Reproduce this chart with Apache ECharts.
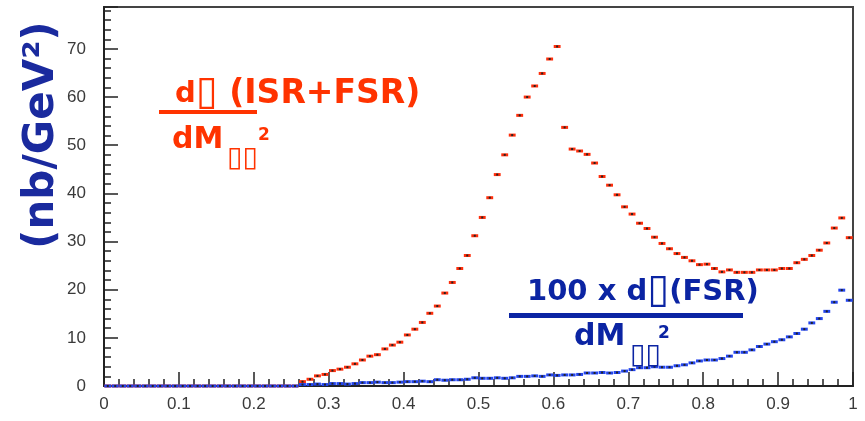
<!DOCTYPE html>
<html>
<head>
<meta charset="utf-8">
<script src="https://cdn.jsdelivr.net/npm/echarts@6/dist/echarts.min.js"></script>
<style>html,body{margin:0;padding:0;background:#fff;}#chart{width:865px;height:421px;}</style>
</head>
<body>
<div id="chart"></div>
<script>
// Histogram: 100 bins of width 0.01 in M^2 (GeV^2), from 0 to 1
const binWidth = 0.01;
// d sigma (ISR+FSR) / dM^2  (nb/GeV^2), one value per bin
const redValues = [
  0,0,0,0,0,0,0,0,0,0,
  0,0,0,0,0,0,0,0,0,0,
  0,0,0,0,0,0,0.9,1.4,2.1,2.4,
  3.2,3.5,3.9,4.6,5.4,6.2,6.5,7.7,8.5,9.1,
  10.6,11.8,13.2,15.1,16.6,19.3,21.5,24.4,27.1,31.2,
  35.0,39.1,43.9,48.0,52.1,56.2,60.0,62.3,64.9,67.9,
  70.5,53.7,49.2,48.8,48.1,46.3,43.5,41.7,39.7,37.2,
  35.7,33.8,32.7,30.9,29.6,28.5,27.5,26.7,26.0,25.2,
  25.3,24.4,23.7,24.1,23.6,23.6,23.6,24.1,24.1,24.1,
  24.4,24.4,25.6,26.3,27.1,28.2,29.7,32.8,34.9,30.8
];
// 100 x d sigma (FSR) / dM^2  (nb/GeV^2)
const blueValues = [
  0,0,0,0,0,0,0,0,0,0,
  0,0,0,0,0,0,0,0,0,0,
  0,0,0,0,0,0,0.3,0.3,0.4,0.3,
  0.5,0.5,0.4,0.5,0.7,0.7,0.8,0.7,0.7,0.8,
  0.9,0.9,1.0,0.9,1.3,1.2,1.3,1.3,1.4,1.7,
  1.6,1.6,1.7,1.6,1.7,2.0,2.0,2.1,2.0,2.3,
  2.2,2.3,2.3,2.4,2.7,2.7,2.8,2.7,2.8,3.1,
  3.4,3.8,3.8,4.0,3.9,3.9,4.2,4.4,4.8,5.2,
  5.4,5.4,5.7,6.2,7.0,7.0,7.5,8.2,8.7,9.2,
  9.6,10.2,10.9,11.8,13.1,14.0,15.5,17.4,19.9,17.8
];
const xMin = 0, xMax = 1, xInterval = 0.1;
const yMin = 0, yMax = 78.7, yInterval = 10, yMinorInterval = 2;

const redColor = '#ff2d0a';
const blueColor = '#2244ee';
const redText = '#ff3300';
const blueText = '#0b24a3';

function toData(vals) {
  return vals.map((v, i) => [(i + 0.5) * binWidth, v]);
}
function makeRender(color) {
  return function (params, api) {
    const c = api.coord([api.value(0), api.value(1)]);
    const w = api.size([binWidth, 0])[0];
    return {
      type: 'group',
      children: [
        { type: 'rect', shape: { x: c[0] - w / 2 + 0.3, y: c[1] - 1.5, width: w - 0.6, height: 3 }, style: { fill: color } },
        { type: 'rect', shape: { x: c[0] - 1, y: c[1] - 1, width: 2, height: 2 }, style: { fill: '#222' } }
      ]
    };
  };
}

const chart = echarts.init(document.getElementById('chart'), null, { renderer: 'canvas' });
const labelFont = { fontFamily: 'Liberation Sans', fontSize: 17, color: '#3a3a3a' };
const titleFont = 'DejaVu Sans';

function richStyle(color, mainSize, restSize) {
  return {
    a: { fontFamily: titleFont, fontWeight: 'bold', fontSize: mainSize, color: color },
    c: { fontFamily: titleFont, fontWeight: 'bold', fontSize: restSize, color: color },
    b: { fontFamily: titleFont, fontWeight: 'normal', fontSize: 40, color: color }
  };
}

chart.setOption({
  animation: false,
  backgroundColor: '#fff',
  grid: { left: 104, right: 12, top: 7, bottom: 35, show: true, borderColor: '#444', borderWidth: 2, backgroundColor: 'transparent' },
  xAxis: [{
    type: 'value', min: xMin, max: xMax, interval: xInterval,
    axisLine: { show: true, lineStyle: { color: '#222', width: 2 } },
    axisTick: { show: true, inside: true, length: 14, lineStyle: { color: '#222', width: 1.5 } },
    minorTick: { show: true, splitNumber: 5, length: 7, lineStyle: { color: '#222', width: 1.5 } },
    axisLabel: Object.assign({ margin: 10 }, labelFont),
    splitLine: { show: false }
  }],
  yAxis: [{
    type: 'value', min: yMin, max: yMax, interval: yInterval,
    axisLine: { show: true, lineStyle: { color: '#222', width: 2 } },
    axisTick: { show: true, inside: true, length: 14, lineStyle: { color: '#222', width: 1.5 } },
    axisLabel: Object.assign({ margin: 18, formatter: v => (Math.abs(v % 10) < 1e-9 ? String(v) : '') }, labelFont),
    splitLine: { show: false }
  }, {
    type: 'value', min: yMin, max: yMax, interval: yMinorInterval, position: 'left',
    axisLine: { show: false },
    axisTick: { show: true, inside: true, length: 7, lineStyle: { color: '#222', width: 1.5 } },
    axisLabel: { show: false },
    splitLine: { show: false }
  }],
  series: [{
    type: 'custom', name: 'ISR+FSR', renderItem: makeRender(redColor), data: toData(redValues), clip: false, z: 3
  }, {
    type: 'custom', name: '100 x FSR', renderItem: makeRender(blueColor), data: toData(blueValues), clip: false, z: 4
  }],
  graphic: [
    // Y axis title
    { type: 'text', x: 42, y: 135, rotation: Math.PI / 2, z: 10,
      style: { text: '(nb/GeV²)', fontFamily: titleFont, fontWeight: 'bold', fontSize: 42, fill: '#1a2a9e', align: 'center', verticalAlign: 'middle' } },
    // Red annotation
    { type: 'text', x: 175, y: 94, z: 10,
      style: { text: '{a|d}{b|▯}{c| (ISR+FSR)}', rich: richStyle(redText, 29, 33), fill: redText, align: 'left', verticalAlign: 'middle' } },
    { type: 'rect', shape: { x: 159, y: 110, width: 98, height: 4 }, style: { fill: redText }, z: 10 },
    { type: 'text', x: 172, y: 140, z: 10,
      style: { text: 'dM', fontFamily: titleFont, fontWeight: 'bold', fontSize: 30, fill: redText, align: 'left', verticalAlign: 'middle' } },
    { type: 'text', x: 227, y: 159, z: 10,
      style: { text: '▯▯', fontFamily: titleFont, fontSize: 28, fill: redText, align: 'left', verticalAlign: 'middle' } },
    { type: 'text', x: 258, y: 136, z: 10,
      style: { text: '2', fontFamily: titleFont, fontWeight: 'bold', fontSize: 17, fill: redText, align: 'left', verticalAlign: 'middle' } },
    // Blue annotation
    { type: 'text', x: 527, y: 292, z: 10,
      style: { text: '{a|100 x d}{b|▯}{a|(FSR)}', rich: richStyle(blueText, 29, 29), fill: blueText, align: 'left', verticalAlign: 'middle' } },
    { type: 'rect', shape: { x: 509, y: 313, width: 234, height: 5 }, style: { fill: blueText }, z: 10 },
    { type: 'text', x: 574, y: 337, z: 10,
      style: { text: 'dM', fontFamily: titleFont, fontWeight: 'bold', fontSize: 30, fill: blueText, align: 'left', verticalAlign: 'middle' } },
    { type: 'text', x: 630, y: 356, z: 10,
      style: { text: '▯▯', fontFamily: titleFont, fontSize: 28, fill: blueText, align: 'left', verticalAlign: 'middle' } },
    { type: 'text', x: 658, y: 334, z: 10,
      style: { text: '2', fontFamily: titleFont, fontWeight: 'bold', fontSize: 17, fill: blueText, align: 'left', verticalAlign: 'middle' } }
  ]
});
</script>
</body>
</html>
